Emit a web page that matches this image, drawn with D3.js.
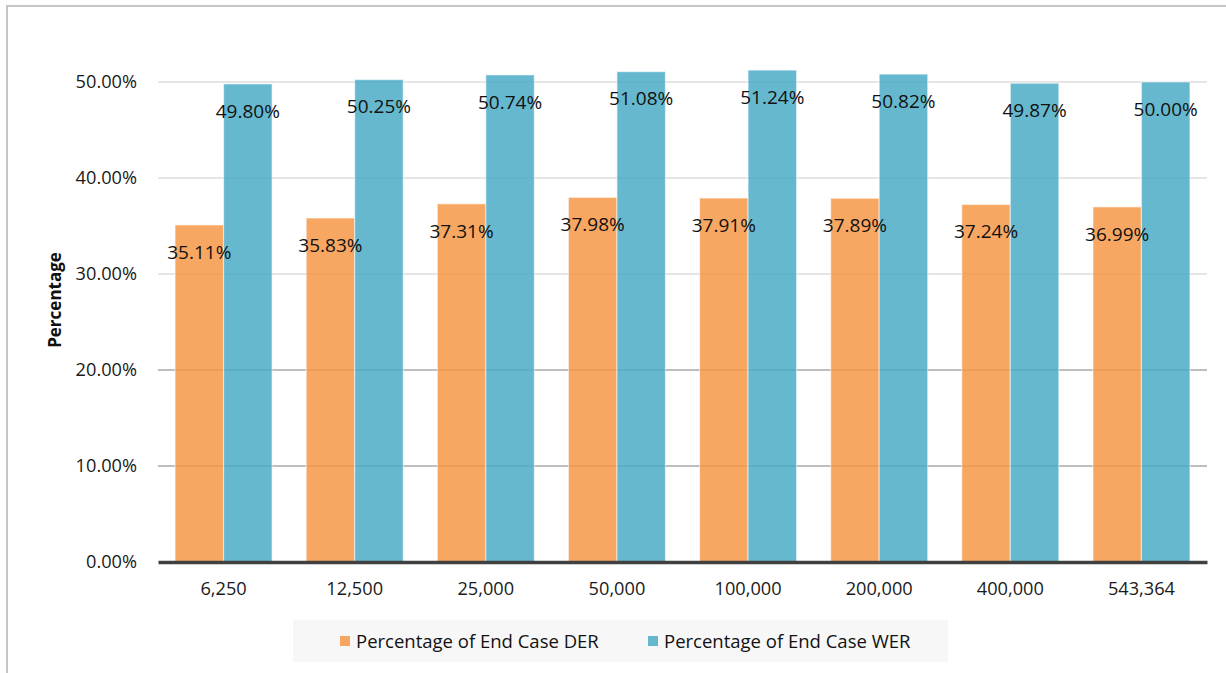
<!DOCTYPE html>
<html>
<head>
<meta charset="utf-8">
<script src="https://cdn.jsdelivr.net/npm/d3@7"></script>
<style>
  html, body { margin: 0; padding: 0; background: #fff; }
  svg { display: block; font-family: "Open Sans", "Noto Sans", sans-serif; }
</style>
</head>
<body>
<svg id="chart" width="1226" height="673"></svg>
<script>
// Corpus size categories and the two series (percent of end-case error rate)
const categories = ["6,250", "12,500", "25,000", "50,000", "100,000", "200,000", "400,000", "543,364"];
const derValues = [35.11, 35.83, 37.31, 37.98, 37.91, 37.89, 37.24, 36.99];
const werValues = [49.80, 50.25, 50.74, 51.08, 51.24, 50.82, 49.87, 50.00];
const seriesNames = ["Percentage of End Case DER", "Percentage of End Case WER"];
const yTicks = [0, 10, 20, 30, 40, 50];

const colors = ["#F79846", "#4BABC5"];
const barOpacity = 0.85;

const svg = d3.select("#chart");

// Outer frame (only left and top edges are inside the view)
svg.append("rect")
  .attr("x", 7).attr("y", 6).attr("width", 1240).attr("height", 700)
  .attr("fill", "none").attr("stroke", "#c6c6c6").attr("stroke-width", 2);

const plot = { left: 158, right: 1207, top: 82, bottom: 562 };

const x = d3.scaleBand().domain(categories).range([plot.left, plot.right]).padding(0);
// two bars side by side, centred in each category band
const barW = x.bandwidth() * 0.37;
const subX = k => x.bandwidth() / 2 - barW + k * barW;
const y = d3.scaleLinear().domain([0, 50]).range([plot.bottom, plot.top]);

// Horizontal gridlines
svg.append("g").selectAll("line")
  .data(yTicks.filter(d => d > 0))
  .join("line")
  .attr("x1", plot.left).attr("x2", plot.right)
  .attr("y1", d => y(d)).attr("y2", d => y(d))
  .attr("stroke", d => d <= 20 ? "#a9a9a9" : "#dcdcdc")
  .attr("stroke-width", 1.3);

// Y axis tick labels
const yAxis = d3.axisLeft(y).tickValues(yTicks).tickSize(0).tickPadding(0)
  .tickFormat(d => d.toFixed(2) + "%");
const yg = svg.append("g").attr("transform", `translate(${plot.left - 21},0)`).call(yAxis);
yg.select(".domain").remove();
yg.selectAll("text").attr("font-size", 18.2).attr("fill", "#1a1a1a")
  .attr("font-family", "'Open Sans', sans-serif");

// Y axis title
svg.append("text")
  .attr("transform", `translate(61,${(plot.top + plot.bottom) / 2 - 22}) rotate(-90)`)
  .attr("text-anchor", "middle")
  .attr("font-size", 17).attr("font-weight", "bold").attr("fill", "#111")
  .text("Percentage");

// Bars
const rows = categories.map((c, i) => ({ cat: c, vals: [derValues[i], werValues[i]] }));
const groups = svg.append("g").selectAll("g")
  .data(rows).join("g")
  .attr("transform", d => `translate(${x(d.cat)},0)`);

groups.selectAll("rect")
  .data(d => d.vals.map((v, k) => ({ v, k })))
  .join("rect")
  .attr("x", d => subX(d.k))
  .attr("width", barW)
  .attr("y", d => y(d.v))
  .attr("height", d => y(0) - y(d.v))
  .attr("fill", d => colors[d.k])
  .attr("fill-opacity", barOpacity)
  .attr("stroke", "#ffffff").attr("stroke-opacity", 0.5).attr("stroke-width", 1.2);

// Value labels inside bar tops
groups.selectAll("text")
  .data(d => d.vals.map((v, k) => ({ v, k })))
  .join("text")
  .attr("x", d => subX(d.k) + barW / 2)
  .attr("y", d => y(d.v) + 27)
  .attr("dy", "0.36em")
  .attr("text-anchor", "middle")
  .attr("font-size", 19).attr("fill", "#111")
  .text(d => d.v.toFixed(2) + "%");

// Baseline axis
const xAxis = d3.axisBottom(x).tickSize(0).tickPadding(20);
const xg = svg.append("g").attr("transform", `translate(0,${plot.bottom})`).call(xAxis);
xg.select(".domain").attr("stroke", "#404040").attr("stroke-width", 3.5);
xg.selectAll("text").attr("font-size", 18.2).attr("fill", "#1a1a1a")
  .attr("font-family", "'Open Sans', sans-serif");

// Legend
const legend = svg.append("g");
legend.append("rect")
  .attr("x", 293).attr("y", 620).attr("width", 655).attr("height", 42)
  .attr("fill", "#f7f7f7");
const legendX = [340, 648];
seriesNames.forEach((name, k) => {
  legend.append("rect")
    .attr("x", legendX[k]).attr("y", 636).attr("width", 10).attr("height", 10)
    .attr("fill", colors[k]).attr("fill-opacity", barOpacity);
  legend.append("text")
    .attr("x", legendX[k] + 16).attr("y", 641).attr("dy", "0.36em")
    .attr("font-size", 18.5).attr("fill", "#111")
    .text(name);
});
</script>
</body>
</html>
